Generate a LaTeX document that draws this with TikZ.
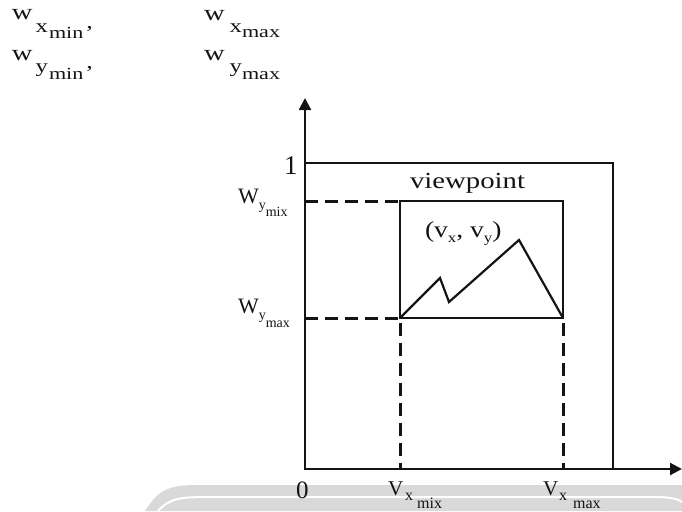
\documentclass[tikz,border=0pt]{standalone}
\usepackage{fontspec}
\setmainfont{Liberation Serif}
\usepackage{graphicx}
\usepackage{xcolor}
\usetikzlibrary{arrows.meta}
\definecolor{bandgray}{HTML}{D9D9D9}
\definecolor{ink}{HTML}{141414}
\newcommand{\fsz}[1]{\fontsize{#1}{#1}\selectfont}
\newcommand{\wide}[1]{\scalebox{1.3}[1]{#1}}
\tikzset{
    axisline/.style={draw=ink,line width=2.2pt,
      {Triangle[length=12pt,width=12pt]}-{Triangle[length=12pt,width=12pt]}},
    boxline/.style={draw=ink,line width=2.2pt},
    guideline/.style={draw=ink,line width=3pt,dash pattern=on 13pt off 7pt},
    lbl/.style={anchor=base west,inner sep=0pt,outer sep=0pt,text=ink}
}
\begin{document}
\begin{tikzpicture}[x=1pt,y=-1pt]
    \useasboundingbox (0,0) rectangle (682,511);
    % band at the bottom
    \fill[bandgray] (145,511) .. controls (160,487) and (172,485) .. (200,485) -- (682,485) -- (682,511) -- cycle;
    \draw[white,line width=2pt] (158,511) .. controls (170,498) and (180,497) .. (210,497) -- (655,497) .. controls (670,497) and (678,499) .. (682,502);
    \coordinate (O) at (305,469);
    \coordinate (ytip) at (305,98);
    \coordinate (xtip) at (682,469);
    \coordinate (outerTL) at (305,163);
    \coordinate (outerTR) at (613,163);
    \coordinate (vpTL) at (400,201);
    \coordinate (vpBR) at (563,318);
    \coordinate (vpBL) at (vpTL |- vpBR);
    \draw[guideline] (O |- vpTL) -- (vpTL);
    \draw[guideline] (O |- vpBR) -- (vpBL);
    \draw[guideline,dash phase=15pt] (vpBL) -- (vpBL |- O);
    \draw[guideline,dash phase=15pt] (vpBR) -- (vpBR |- O);
    \draw[boxline] (outerTL) -- (outerTR) -- (outerTR |- O);
    \draw[boxline] (vpTL) rectangle (vpBR);
    \draw[boxline] (vpBL) -- (440,278) -- (449,302) -- (519,240) -- (vpBR);
    \draw[axisline] (ytip) -- (O) -- (xtip);
    % labels
    \node[lbl] (wxmin) at (12,20) {\fsz{22}\wide{w}\kern3pt\raisebox{-13pt}{\fsz{19}\wide{x}}\kern1pt\raisebox{-18pt}{\fsz{17}\wide{min}}\kern3pt\raisebox{-9pt}{\fsz{20}\wide{,}}};
    \node[lbl] (wxmax) at (204,21) {\fsz{22}\wide{w}\kern5pt\raisebox{-12pt}{\fsz{19}\wide{x}}\raisebox{-17pt}{\fsz{17}\wide{max}}};
    \node[lbl] (wymin) at (12,60) {\fsz{22}\wide{w}\kern3pt\raisebox{-12pt}{\fsz{19}\wide{y}}\kern1pt\raisebox{-19pt}{\fsz{17}\wide{min}}\kern3pt\raisebox{-9pt}{\fsz{20}\wide{,}}};
    \node[lbl] (wymax) at (204,60) {\fsz{22}\wide{w}\kern5pt\raisebox{-12pt}{\fsz{19}\wide{y}}\raisebox{-19pt}{\fsz{17}\wide{max}}};
    \node[lbl] (one) at (284,174) {\fsz{27}1};
    \node[lbl] (zero) at (296,498) {\fsz{25}0};
    \node[lbl] (wymix) at (238,203) {\fsz{22}W\raisebox{-6pt}{\fsz{14}y}\raisebox{-13pt}{\fsz{14}mix}};
    \node[lbl] (wymaxl) at (238,313) {\fsz{22}W\raisebox{-6pt}{\fsz{14}y}\raisebox{-14pt}{\fsz{14}max}};
    \node[lbl] (vxmix) at (388,495) {\fsz{21}V\kern2pt\raisebox{-5pt}{\fsz{16}x}\kern4pt\raisebox{-13pt}{\fsz{16}mix}};
    \node[lbl] (vxmax) at (543,495) {\fsz{21}V\kern1pt\raisebox{-5pt}{\fsz{16}x}\kern6pt\raisebox{-13pt}{\fsz{16}max}};
    \node[lbl] (viewpoint) at (410,188) {\fsz{23}\scalebox{1.25}[1]{viewpoint}};
    \node[lbl] (vxvy) at (425,237) {\fsz{23}\scalebox{1.2}[1]{(v\raisebox{-5pt}{\fsz{14}x}, v\raisebox{-5pt}{\fsz{14}y})}};
\end{tikzpicture}
\end{document}
